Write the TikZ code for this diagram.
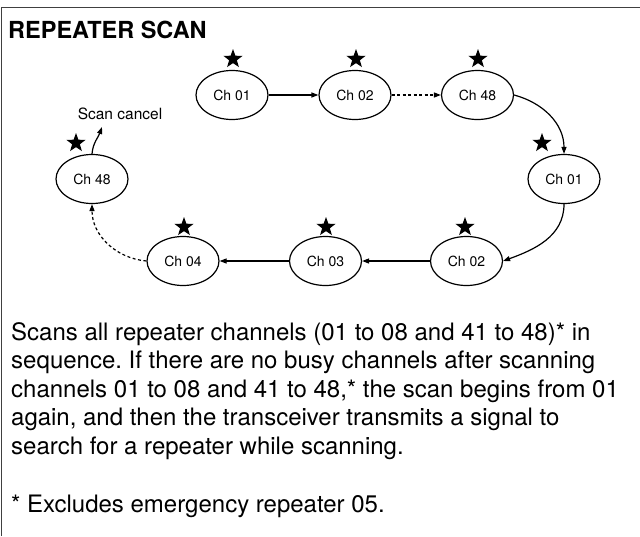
\documentclass[tikz,border=0pt]{standalone}
\usepackage{fontspec}
\setmainfont{TeX Gyre Heros}
\usetikzlibrary{arrows.meta,shapes.geometric}
\definecolor{framegray}{RGB}{64,64,64}
\frenchspacing
\begin{document}
\begin{tikzpicture}[x=1pt,y=-1pt,
  ch/.style={ellipse, draw, line width=1.2pt, minimum width=72pt, minimum height=49pt, inner sep=0pt, font=\fontsize{14}{16}\selectfont},
  starmark/.style={star, star points=5, star point ratio=2.45, fill=black, draw=none, minimum size=20pt, inner sep=0pt},
  conn/.style={line width=1.2pt, -{Triangle[length=7pt,width=5pt]}},
  dconn/.style={conn, dash pattern=on 3pt off 2.5pt},
  txt/.style={anchor=base west, inner sep=0pt, font=\fontsize{24}{28}\selectfont}
]
\useasboundingbox (0,0) rectangle (640,536);
\draw[framegray, line width=1.8pt] (1.5,536) -- (1.5,7.5) -- (640,7.5);

\node[anchor=base west, inner sep=0pt, font=\fontsize{23.5}{26}\selectfont\bfseries] (title) at (8,38.5) {REPEATER SCAN};

% nodes
\node[ch] (t1) at (232,95) {Ch 01};
\node[ch] (t2) at (355,95) {Ch 02};
\node[ch] (t3) at (477.5,95) {Ch 48};
\node[ch] (r1) at (564,179) {Ch 01};
\node[ch] (b2) at (466.5,261) {Ch 02};
\node[ch] (b3) at (325.5,261) {Ch 03};
\node[ch] (b4) at (183,261) {Ch 04};
\node[ch] (l48) at (92,179) {Ch 48};

% stars
\node[starmark] (st1) at (233,59) {};
\node[starmark] (st2) at (356,59) {};
\node[starmark] (st3) at (478,59) {};
\node[starmark] (sr1) at (542,143) {};
\node[starmark] (sb2) at (465,227) {};
\node[starmark] (sb3) at (326,227) {};
\node[starmark] (sb4) at (184,227) {};
\node[starmark] (sl48) at (76,143) {};

% scan cancel
\node[inner sep=0pt, font=\fontsize{15.5}{18}\selectfont] (cancel) at (120,114) {Scan cancel};
\coordinate (scend) at (102,127);

% connectors
\draw[conn] (t1) -- (t2);
\draw[dconn] (t2) -- (t3);
\draw[conn] (t3.east) to[out=-15, in=90] (r1.north);
\draw[conn] (r1.south) to[out=-90, in=20] (b2.east);
\draw[conn] (b2) -- (b3);
\draw[conn] (b3) -- (b4);
\draw[dconn] (b4.west) to[out=175, in=-90] (l48.south);
\draw[conn] (l48.north) to[out=85, in=-110] (scend);

% body text
\node[txt] (p1) at (11,340) {Scans all repeater channels (01 to 08 and 41 to 48)* in};
\node[txt] (p2) at (11,368.5) {sequence. If there are no busy channels after scanning};
\node[txt] (p3) at (11,397) {channels 01 to 08 and 41 to 48,* the scan begins from 01};
\node[txt] (p4) at (11,425.5) {again, and then the transceiver transmits a signal to};
\node[txt] (p5) at (11,454) {search for a repeater while scanning.};
\node[txt] (fn) at (11,512.5) {* Excludes emergency repeater 05.};
\end{tikzpicture}
\end{document}
